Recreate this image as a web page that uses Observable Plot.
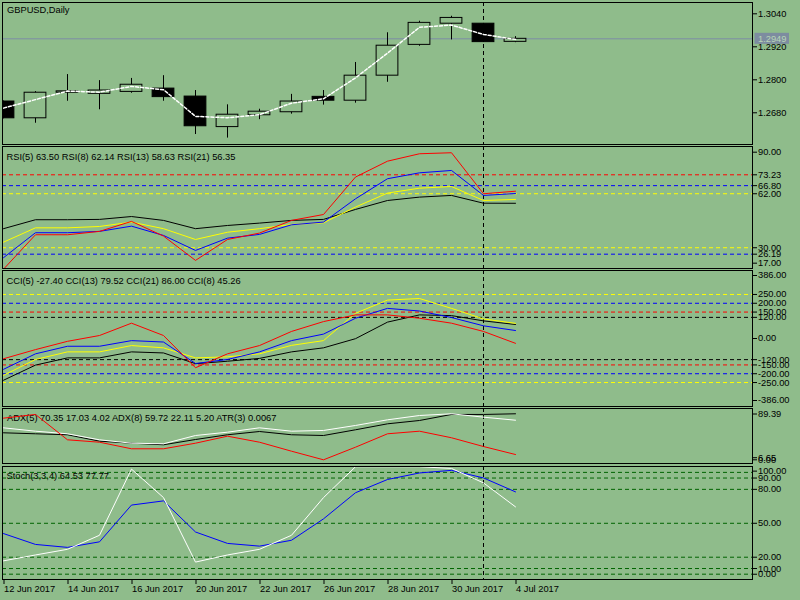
<!DOCTYPE html>
<html>
<head>
<meta charset="utf-8">
<script src="https://cdn.jsdelivr.net/npm/d3@7"></script>
<script src="https://cdn.jsdelivr.net/npm/@observablehq/plot@0.6"></script>
<style>
html,body{margin:0;padding:0;background:#8fbc8b;}
#chart{position:relative;width:800px;height:600px;overflow:hidden;background:#8fbc8b;}
#chart svg{position:absolute;left:0;}
</style>
</head>
<body>
<div id="chart"></div>
<script>
// ---------- data ----------
const dates = ["12 Jun 2017","13 Jun 2017","14 Jun 2017","15 Jun 2017","16 Jun 2017","19 Jun 2017","20 Jun 2017","21 Jun 2017","22 Jun 2017","23 Jun 2017","26 Jun 2017","27 Jun 2017","28 Jun 2017","29 Jun 2017","30 Jun 2017","3 Jul 2017","4 Jul 2017"];
const tickDates = ["12 Jun 2017","14 Jun 2017","16 Jun 2017","20 Jun 2017","22 Jun 2017","26 Jun 2017","28 Jun 2017","30 Jun 2017","4 Jul 2017"];
const cursorDate = "3 Jul 2017";

const openP  = [1.2721,1.2660,1.2753,1.2749,1.2756,1.2768,1.2739,1.2628,1.2671,1.2682,1.2738,1.2724,1.2815,1.2927,1.3004,1.3004,1.2938];
const highP  = [1.2723,1.2757,1.2819,1.2797,1.2805,1.2815,1.2761,1.2709,1.2693,1.2747,1.2761,1.2863,1.2971,1.3013,1.3031,1.3005,1.2957];
const lowP   = [1.2658,1.2642,1.2722,1.2691,1.2751,1.2722,1.2601,1.2588,1.2655,1.2675,1.2708,1.2715,1.2791,1.2922,1.2945,1.2936,1.2935];
const closeP = [1.2660,1.2753,1.2758,1.2761,1.2782,1.2737,1.2631,1.2673,1.2684,1.2721,1.2724,1.2815,1.2924,1.3007,1.3025,1.2937,1.2949];
const maP    = [1.2697,1.2728,1.2759,1.2755,1.2776,1.2764,1.2667,1.2662,1.2673,1.2715,1.2731,1.2807,1.2897,1.2991,1.2999,1.2965,1.2947];
const priceTicks = [1.3040,1.2920,1.2800,1.2680];
const lastPrice = 1.2949;

const rsi5  = [17.3,37.7,37.7,39.7,45.6,36.9,22.5,34.9,38.7,46.2,49.7,71.9,81.3,85.7,86.3,62.0,63.50];
const rsi8  = [24.1,38.9,38.9,39.7,42.8,37.3,28.4,35.7,37.9,43.6,45.2,59.0,70.9,74.4,75.8,61.0,62.14];
const rsi13 = [33.3,41.8,41.8,42.6,45.2,41.3,34.9,39.2,41.3,43.8,44.8,54.1,62.4,65.3,66.3,58.0,58.63];
const rsi21 = [41.3,46.6,46.6,46.8,48.5,46.2,41.3,43.2,44.6,46.2,46.8,52.7,58.0,60.0,61.0,56.4,56.35];
const rsiRed = [73.23], rsiBlue = [66.80,26.19], rsiYellow = [62.00,30.00];
const rsiMax = 90, rsiMin = 17;

const cci5  = [-115,-63,-16,17,87,17,-166,-87,-40,40,96,134,134,115,87,40,-27.40];
const cci13 = [-237,-151,-110,-110,-76,-82,-143,-129,-113,-76,-53,-1,93,134,130,100,79.52];
const cci21 = [-209,-119,-76,-76,-40,-53,-110,-104,-87,-39,-12,143,218,227,171,111,86.00];
const cci8  = [-175,-87,-44,-44,-12,-20,-142,-119,-76,-12,25,115,171,156,119,72,45.26];
const cciYellow = [250,-250], cciBlue = [200,-200], cciRed = [150,-150], cciBlack = [120,-120];
const cciLabels = [250,200,150,120,0,-120,-150,-200,-250];
const cciMax = 386, cciMin = -386;

const adxWhite = [58,52.5,48.3,38.5,33,32,45.5,50.9,58,52.5,53.7,61.8,71,78,80.8,75.3,70.35];
const adxBlack = [49.9,48.3,46.7,36.3,33,30.4,39,46.7,52,46.7,45.5,54.8,64.5,69.9,79.7,79.7,80.8];
const adxRed   = [73.7,79.7,38.5,34.6,23.9,23.9,33,44.4,34.6,20,6,26.5,48.3,52.5,41.8,27.6,14.6];
const adxMax = 89.39, adxMid = 6.65, adxMin = 0;

const stochMain = [16.8,22,27,39.4,97.9,72.7,15.7,22,27,39.4,72.7,100,100,100,98.5,85.7,64.53];
const stochSig  = [40.9,31.3,28.7,33.6,66.1,69.8,42.3,32.2,29.8,35,53.9,77,88.7,94.5,96.8,90.1,77.77];
const stochLevels = [95,90,80,50,20,10,5];
const stochLabels = [90,80,50,20,10];
const stochMax = 100, stochMin = 0;

// ---------- drawing ----------
const root = document.getElementById("chart");
const bg = "#8fbc8b";
const FONT = '"Liberation Sans", Arial, sans-serif';
const FS = 9.3;
const idx = d3.range(dates.length);
const xDomain = [-1/32, 749/32];
const cursorIdx = dates.indexOf(cursorDate);
const tickIdx = tickDates.map(d => dates.indexOf(d));
const f2 = d => d.toFixed(2);
const f4 = d => d.toFixed(4);

function makePanel(top, height, mt, mb, yDomain, marks, showX) {
  const svg = Plot.plot({
    width: 800, height,
    marginLeft: 2, marginRight: 48, marginTop: mt, marginBottom: mb,
    x: {domain: xDomain, axis: showX ? undefined : null},
    y: {domain: yDomain},
    style: {background: "transparent", fontFamily: FONT, fontSize: FS + "px", color: "black", overflow: "visible"},
    marks
  });
  svg.style.position = "absolute";
  svg.style.top = top + "px";
  root.appendChild(svg);
  return svg;
}
const yAx = (vals, fmt, dy = 0) => Plot.axisY(vals, {anchor: "right", tickSize: 4, tickPadding: 1.5, tickFormat: fmt, dy, fontSize: FS});
const lvl = (vals, color) => Plot.ruleY(vals, {stroke: color, strokeDasharray: "4,3"});
const ser = (arr, color) => Plot.line(arr, {x: (d, i) => i, y: d => d, stroke: color, strokeWidth: 1, clip: true});
const legend = (txt, dx, dy) => Plot.text([txt], {text: d => d, frameAnchor: "top-left", lineAnchor: "top", textAnchor: "start", dx, dy, fill: "black", fontSize: FS});
const cursor = () => Plot.ruleX([cursorIdx], {stroke: "black", strokeDasharray: "4,3"});

// main price panel (frame y 2..144)
const mainSvg = makePanel(0, 145, 2, 1, [1.25647, 1.30811], [
  legend("GBPUSD,Daily", 4.5, 4),
  Plot.ruleY([lastPrice], {stroke: "#7d8ca6"}),
  cursor(),
  Plot.ruleX(idx, {x: i => i, y1: i => lowP[i], y2: i => highP[i], stroke: "black", clip: true}),
  Plot.rect(idx, {
    x1: i => i - 0.34, x2: i => i + 0.34,
    y1: i => Math.min(openP[i], closeP[i]), y2: i => Math.max(openP[i], closeP[i]),
    fill: i => closeP[i] >= openP[i] ? bg : "black", stroke: "black", clip: true
  }),
  Plot.line(idx, {x: i => i, y: i => maP[i], stroke: "white", strokeDasharray: "3,2", clip: true}),
  yAx(priceTicks, f4),
  Plot.frame({stroke: "black"})
], false);
// last price tag, positioned with the plot's own y scale
{
  const yp = mainSvg.scale("y").apply(lastPrice);
  const g = d3.select(mainSvg).append("g").attr("text-anchor", "start");
  g.append("rect").attr("x", 754.5).attr("y", yp - 5.5).attr("width", 34.5).attr("height", 11).attr("fill", "#7d8ca0");
  g.append("text").attr("x", 758).attr("y", yp).attr("dy", "0.36em").attr("text-anchor", "start")
    .attr("fill", "#b9d6b5").attr("font-size", FS).attr("font-family", FONT).text(f4(lastPrice));
}

// RSI panel (frame y 146..268)
makePanel(145, 124, 1, 1, [17.7, 90], [
  legend("RSI(5) 63.50 RSI(8) 62.14 RSI(13) 58.63 RSI(21) 56.35", 4, 6.5),
  lvl(rsiRed, "red"), lvl(rsiBlue, "blue"), lvl(rsiYellow, "yellow"),
  cursor(),
  ser(rsi21, "black"), ser(rsi13, "yellow"), ser(rsi8, "blue"), ser(rsi5, "red"),
  yAx([...rsiRed, ...rsiBlue, ...rsiYellow], f2),
  yAx([rsiMax], f2, 5.7),
  yAx([rsiMin], f2, -6.5),
  Plot.frame({stroke: "black"})
], false);

// CCI panel (frame y 270..406)
makePanel(269, 139, 1, 2, [cciMin, cciMax], [
  legend("CCI(5) -27.40 CCI(13) 79.52 CCI(21) 86.00 CCI(8) 45.26", 4, 6.5),
  lvl(cciYellow, "yellow"), lvl(cciBlue, "blue"), lvl(cciRed, "red"), lvl(cciBlack, "black"),
  cursor(),
  ser(cci13, "black"), ser(cci21, "yellow"), ser(cci8, "blue"), ser(cci5, "red"),
  yAx(cciLabels, f2),
  yAx([cciMax], f2, 5),
  yAx([cciMin], f2, -6),
  Plot.frame({stroke: "black"})
], false);

// ADX / ATR panel (frame y 408..463)
makePanel(407, 57, 1, 1, [adxMin, adxMax], [
  legend("ADX(5) 70.35 17.03 4.02 ADX(8) 59.72 22.11 5.20 ATR(3) 0.0067", 4.5, 5.5),
  cursor(),
  ser(adxBlack, "black"), ser(adxWhite, "white"), ser(adxRed, "red"),
  yAx([adxMax], f2, 5.5),
  yAx([adxMid], f2, -1.7),
  yAx([adxMin], f2, -3.7),
  Plot.frame({stroke: "black"})
], false);

// Stochastic panel with the date axis (frame y 466..579)
makePanel(464, 136, 2, 21, [0.3, 100.2], [
  legend("Stoch(3,3,4) 64.53 77.77", 4, 5.5),
  lvl(stochLevels, "#006400"),
  cursor(),
  ser(stochSig, "blue"), ser(stochMain, "white"),
  yAx(stochLabels, f2),
  yAx([stochMax], f2, 4.4),
  yAx([stochMin], f2, -5.6),
  Plot.axisX(tickIdx, {anchor: "bottom", tickSize: 5, tickPadding: 1, tickFormat: i => dates[i], textAnchor: "start", dx: 0.5, fontSize: FS}),
  Plot.frame({stroke: "black"})
], true);
</script>
</body>
</html>
